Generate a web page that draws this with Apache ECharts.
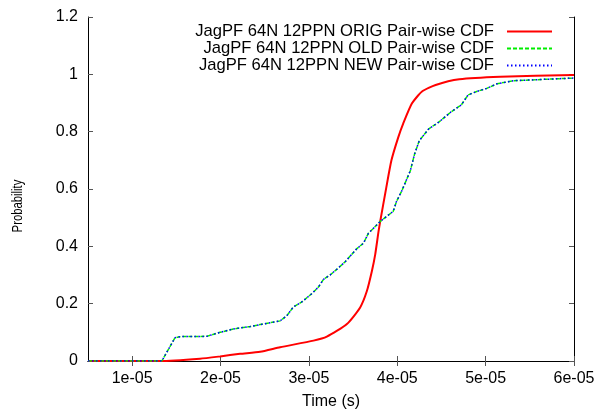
<!DOCTYPE html>
<html>
<head>
<meta charset="utf-8">
<script src="https://cdn.jsdelivr.net/npm/echarts@6/dist/echarts.min.js"></script>
<style>html,body{margin:0;padding:0;background:#fff}#c{width:600px;height:415px}</style>
</head>
<body>
<div id="c"></div>
<script>
// ---- data (time in seconds, probability) ----
const seriesNames = [
  'JagPF 64N 12PPN ORIG Pair-wise CDF',
  'JagPF 64N 12PPN OLD Pair-wise CDF',
  'JagPF 64N 12PPN NEW Pair-wise CDF'
];
const origTime = [5.0,13.15,17.68,19.95,22.21,24.48,26.74,30.52,32.03,34.3,35.8,36.56,37.13,37.5,37.88,38.07,38.75,39.34,40.11,40.67,41.65,42.8,44.34,47.02,51.66,60.0].map(v => v * 1e-6);
const origProb = [0,0,0.008,0.016,0.025,0.032,0.048,0.071,0.085,0.129,0.187,0.244,0.314,0.371,0.452,0.487,0.604,0.70,0.78,0.828,0.898,0.94,0.963,0.983,0.992,0.998];

const oldTime = [5.0,13.35,13.53,14.85,15.42,18.44,19.95,21.46,23.35,24.48,26.74,27.5,28.25,29.2,30.33,31.08,31.65,32.4,33.35,34.1,34.67,35.43,36.18,36.74,37.5,38.07,39.54,39.92,40.49,41.47,41.96,42.5,43.57,44.73,46.08,47.24,48.01,48.98,50.13,51.29,53.21,55.51,60.0].map(v => v * 1e-6);
const oldProb = [0,0,0,0.081,0.085,0.086,0.10,0.112,0.12,0.127,0.14,0.158,0.189,0.206,0.235,0.258,0.285,0.30,0.325,0.346,0.366,0.392,0.411,0.446,0.469,0.487,0.522,0.557,0.592,0.663,0.722,0.769,0.81,0.834,0.869,0.893,0.928,0.94,0.951,0.967,0.978,0.981,0.987];

const newTime = oldTime.slice();
const newProb = oldProb.slice();

const xTickValues = [1e-5, 2e-5, 3e-5, 4e-5, 5e-5, 6e-5];
const xTickLabels = ['1e-05', '2e-05', '3e-05', '4e-05', '5e-05', '6e-05'];
const yTickLabels = ['0', '0.2', '0.4', '0.6', '0.8', '1', '1.2'];

const zip = (xs, ys) => xs.map((x, i) => [x, ys[i]]);
const FONT = 'Liberation Sans, Arial, Helvetica, sans-serif';

const chart = echarts.init(document.getElementById('c'), null, {renderer: 'canvas'});
const tickStyle = {show: true, inside: true, length: 5, lineStyle: {color: '#555', width: 1}};
const lineAxis = {show: true, lineStyle: {color: '#000', width: 1}};

chart.setOption({
  animation: false,
  backgroundColor: '#fff',
  grid: {left: 88, right: 26, top: 17, bottom: 51, containLabel: false},
  legend: {
    orient: 'vertical', align: 'right', right: 47, top: 23, padding: 0,
    itemGap: 0, itemWidth: 45, itemHeight: 14,
    itemStyle: {opacity: 0, borderWidth: 0},
    textStyle: {fontFamily: FONT, fontSize: 16.6, color: '#000', lineHeight: 16.3, padding: [0, 8, 0, 0]},
    data: seriesNames
  },
  xAxis: [{
    type: 'value', min: 5e-6, max: 6e-5, position: 'bottom',
    axisLine: lineAxis, splitLine: {show: false},
    axisTick: Object.assign({customValues: xTickValues}, tickStyle),
    axisLabel: {
      customValues: xTickValues, margin: 10, fontFamily: FONT, fontSize: 16, color: '#000',
      formatter: v => { const i = xTickValues.findIndex(t => Math.abs(t - v) < 1e-9); return i >= 0 ? xTickLabels[i] : ''; }
    },
    name: 'Time (s)', nameLocation: 'middle', nameGap: 33,
    nameTextStyle: {fontFamily: FONT, fontSize: 16, color: '#000'}
  }, {
    type: 'value', min: 5e-6, max: 6e-5, position: 'top',
    axisLine: lineAxis, splitLine: {show: false},
    axisTick: Object.assign({customValues: xTickValues}, tickStyle),
    axisLabel: {show: false}
  }],
  yAxis: [{
    type: 'value', min: 0, max: 1.2, interval: 0.2, position: 'left',
    axisLine: lineAxis, splitLine: {show: false}, axisTick: tickStyle,
    axisLabel: {
      margin: 10, fontFamily: FONT, fontSize: 16, color: '#000',
      formatter: v => yTickLabels[Math.round(v / 0.2)]
    }
  }, {
    type: 'value', min: 0, max: 1.2, interval: 0.2, position: 'right',
    axisLine: lineAxis, splitLine: {show: false}, axisTick: tickStyle,
    axisLabel: {show: false}
  }],
  graphic: [{
    type: 'text', x: 18, y: 206, rotation: Math.PI / 2, scaleX: 0.78,
    style: {text: 'Probability', fontFamily: FONT, fontSize: 14.5, fill: '#000', align: 'center', verticalAlign: 'middle'}
  }],
  series: [{
    name: seriesNames[0], type: 'line', data: zip(origTime, origProb),
    showSymbol: false, symbol: 'none', smooth: 0.2,
    lineStyle: {color: '#ff0000', width: 2, type: 'solid'}, itemStyle: {color: '#ff0000'}
  }, {
    name: seriesNames[1], type: 'line', data: zip(oldTime, oldProb),
    showSymbol: false, symbol: 'none',
    lineStyle: {color: '#00ee00', width: 1.5, type: [4, 2]}, itemStyle: {color: '#00ee00'}
  }, {
    name: seriesNames[2], type: 'line', data: zip(newTime, newProb),
    showSymbol: false, symbol: 'none',
    lineStyle: {color: '#0000ff', width: 1.5, type: [1.5, 2.5]}, itemStyle: {color: '#0000ff'}
  }]
});
</script>
</body>
</html>
